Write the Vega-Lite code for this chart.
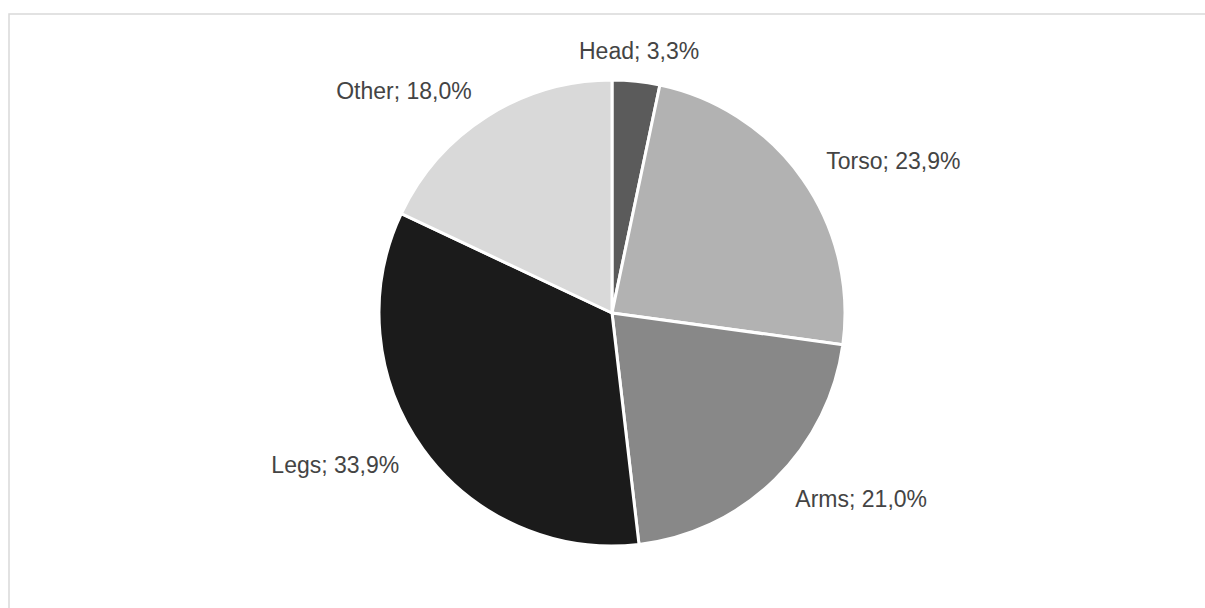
{
  "$schema": "https://vega.github.io/schema/vega-lite/v6.json",
  "width": 1205,
  "height": 608,
  "autosize": {"type": "fit", "contains": "padding"},
  "padding": {"left": 8, "right": -11, "top": 13, "bottom": -5},
  "background": "white",
  "config": {"view": {"stroke": null}},
  "data": {
    "values": [
      {"n": 1, "part": "Head", "value": 3.3, "label": "Head; 3,3%"},
      {"n": 2, "part": "Torso", "value": 23.9, "label": "Torso; 23,9%"},
      {"n": 3, "part": "Arms", "value": 21.0, "label": "Arms; 21,0%"},
      {"n": 4, "part": "Legs", "value": 33.9, "label": "Legs; 33,9%"},
      {"n": 5, "part": "Other", "value": 18.0, "label": "Other; 18,0%"}
    ]
  },
  "layer": [
    {
      "data": {"values": [{"frame": 1}]},
      "mark": {"type": "rect", "fill": "white", "fillOpacity": 0, "stroke": "#d9d9d9", "strokeWidth": 1.5},
      "encoding": {}
    },
    {
      "transform": [
        {"stack": "value", "groupby": [], "sort": [{"field": "n", "order": "ascending"}], "as": ["v0", "v1"]},
        {"calculate": "(datum.v0 + datum.v1) / 2", "as": "mid"}
      ],
      "layer": [
        {
          "mark": {"type": "arc", "outerRadius": 233, "stroke": "white", "strokeWidth": 3},
          "encoding": {
            "theta": {"field": "v0", "type": "quantitative", "stack": null, "scale": {"domain": [0, 100.1]}},
            "theta2": {"field": "v1"},
            "color": {
              "field": "part",
              "type": "nominal",
              "scale": {
                "domain": ["Head", "Torso", "Arms", "Legs", "Other"],
                "range": ["#5b5b5b", "#b2b2b2", "#888888", "#1b1b1b", "#d9d9d9"]
              },
              "legend": null
            }
          }
        },
        {
          "transform": [{"filter": "datum.mid < 5 || datum.mid > 95.1"}],
          "mark": {"type": "text", "radius": 262, "align": "center", "baseline": "middle", "font": "Liberation Sans", "fontSize": 23, "color": "#444444"},
          "encoding": {
            "theta": {"field": "mid", "type": "quantitative", "stack": null},
            "text": {"field": "label"}
          }
        },
        {
          "transform": [{"filter": "datum.mid >= 5 && datum.mid < 50.05"}],
          "mark": {"type": "text", "radius": 262, "align": "left", "baseline": "middle", "font": "Liberation Sans", "fontSize": 23, "color": "#444444"},
          "encoding": {
            "theta": {"field": "mid", "type": "quantitative", "stack": null},
            "text": {"field": "label"}
          }
        },
        {
          "transform": [{"filter": "datum.mid >= 50.05 && datum.mid <= 95.1"}],
          "mark": {"type": "text", "radius": 262, "align": "right", "baseline": "middle", "font": "Liberation Sans", "fontSize": 23, "color": "#444444"},
          "encoding": {
            "theta": {"field": "mid", "type": "quantitative", "stack": null},
            "text": {"field": "label"}
          }
        }
      ]
    }
  ]
}
